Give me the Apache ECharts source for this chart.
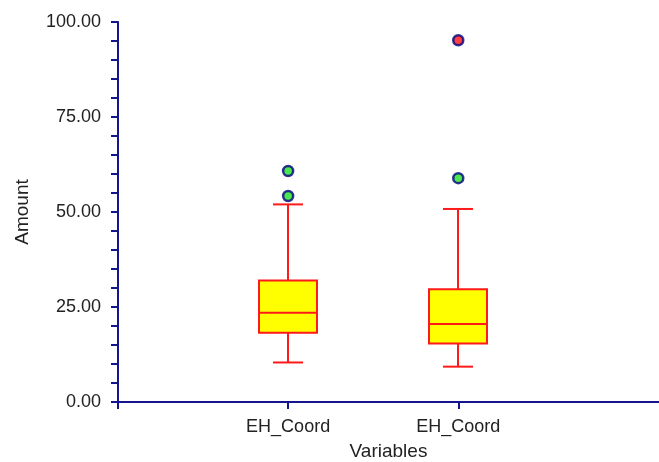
<!DOCTYPE html>
<html>
<head>
<meta charset="utf-8">
<script src="https://cdn.jsdelivr.net/npm/echarts@6/dist/echarts.min.js"></script>
<style>
html, body { margin: 0; padding: 0; background: #fff; }
#main { width: 659px; height: 462px; }
</style>
</head>
<body>
<div id="main"></div>
<script>
// box statistics per variable
var variables = ['EH_Coord', 'EH_Coord'];
var positions = [1, 2];
var lowWhisker = [10.4, 9.3];
var q1 = [18.2, 15.4];
var median = [23.5, 20.5];
var q3 = [32.0, 29.7];
var highWhisker = [52.0, 50.8];

// outliers
var outlierX = [1, 1, 2, 2];
var outlierY = [60.8, 54.2, 58.9, 95.2];
var outlierFill = ['#22e022', '#22e022', '#22e022', '#ff1010'];

var yMin = 0, yMax = 100, yStep = 25;

var boxData = positions.map(function (p, i) {
    return [p, lowWhisker[i], q1[i], median[i], q3[i], highWhisker[i]];
});
var outlierData = outlierX.map(function (x, i) {
    return { value: [x, outlierY[i]], itemStyle: { color: outlierFill[i] } };
});

var red = '#ff1a1a';
var navy = '#14148c';

function renderBox(params, api) {
    var x = api.value(0);
    var lo = api.coord([x, api.value(1)]);
    var b1 = api.coord([x, api.value(2)]);
    var md = api.coord([x, api.value(3)]);
    var b3 = api.coord([x, api.value(4)]);
    var hi = api.coord([x, api.value(5)]);
    var cx = Math.round(lo[0]);
    var hw = 29, cw = 15;
    var line = { stroke: red, lineWidth: 2 };
    return {
        type: 'group',
        children: [
            { type: 'line', shape: { x1: cx, y1: hi[1], x2: cx, y2: b3[1] }, style: line },
            { type: 'line', shape: { x1: cx, y1: b1[1], x2: cx, y2: lo[1] }, style: line },
            { type: 'line', shape: { x1: cx - cw, y1: hi[1], x2: cx + cw, y2: hi[1] }, style: line },
            { type: 'line', shape: { x1: cx - cw, y1: lo[1], x2: cx + cw, y2: lo[1] }, style: line },
            { type: 'rect', shape: { x: cx - hw, y: b3[1], width: hw * 2, height: b1[1] - b3[1] },
              style: { fill: '#ffff00', stroke: red, lineWidth: 2 } },
            { type: 'line', shape: { x1: cx - hw, y1: md[1], x2: cx + hw, y2: md[1] }, style: line }
        ]
    };
}

var myChart = echarts.init(document.getElementById('main'), null, { renderer: 'canvas' });
var option = {
    animation: false,
    backgroundColor: '#fff',
    textStyle: { fontFamily: 'Liberation Sans, Arial, sans-serif' },
    grid: { left: 118, right: 0, top: 22, bottom: 60, containLabel: false, outerBoundsMode: 'none' },
    xAxis: {
        type: 'value',
        min: 0,
        max: 3.18,
        name: 'Variables',
        nameLocation: 'middle',
        nameGap: 40,
        nameTextStyle: { fontSize: 19, color: '#222' },
        splitLine: { show: false },
        axisLine: { lineStyle: { color: navy, width: 2 } },
        axisTick: { customValues: [0, 1, 2], length: 7, lineStyle: { color: navy, width: 2 } },
        axisLabel: {
            customValues: positions,
            fontSize: 18,
            color: '#222',
            margin: 16,
            formatter: function (v) { return variables[positions.indexOf(v)] || ''; }
        }
    },
    yAxis: {
        type: 'value',
        min: yMin,
        max: yMax,
        interval: yStep,
        name: 'Amount',
        nameLocation: 'middle',
        nameGap: 86,
        nameTextStyle: { fontSize: 19, color: '#222' },
        splitLine: { show: false },
        axisLine: { show: true, lineStyle: { color: navy, width: 2 } },
        axisTick: { show: true, length: 7, lineStyle: { color: navy, width: 2 } },
        minorTick: { show: true, splitNumber: 5, length: 7, lineStyle: { color: navy, width: 2 } },
        axisLabel: {
            fontSize: 18,
            color: '#222',
            margin: 17,
            formatter: function (v) { return v.toFixed(2); }
        }
    },
    series: [
        {
            type: 'custom',
            renderItem: renderBox,
            encode: { x: 0, y: [1, 2, 3, 4, 5] },
            data: boxData,
            z: 2
        },
        {
            type: 'scatter',
            symbol: 'circle',
            symbolSize: 10,
            itemStyle: { borderColor: '#000080', borderWidth: 2.5 },
            data: outlierData,
            z: 3
        }
    ]
};
myChart.setOption(option);
</script>
</body>
</html>
